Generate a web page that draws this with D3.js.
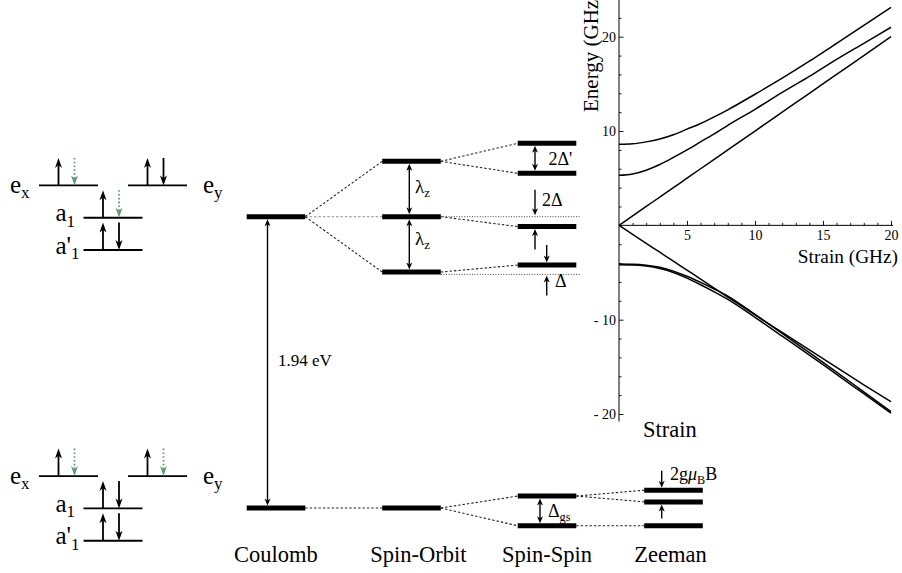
<!DOCTYPE html>
<html>
<head>
<meta charset="utf-8">
<script src="https://cdn.jsdelivr.net/npm/d3@7"></script>
<style>
  body { margin: 0; background: #fff; }
  svg { display: block; }
</style>
</head>
<body>
<svg id="chart" width="902" height="573"></svg>
<script>
// ---------- energy-level diagram ----------
const stages = ["Coulomb", "Spin-Orbit", "Spin-Spin", "Zeeman"];
// schematic level energies (arbitrary units: ground Coulomb level = 0, excited = 100)
const coulombLevels   = [100, 0];
const spinOrbitLevels = [119, 100, 81, 0];
const spinSpinLevels  = [125.2, 114.9, 96.6, 83.4, 4.1, -6.1];
const zeemanLevels    = [6.1, 2.1, -6.1];
// index of the parent level in the previous stage
const spinOrbitParents = [0, 0, 0, 1];
const spinSpinParents  = [0, 0, 1, 2, 3, 3];
const zeemanParents    = [4, 4, 5];
// spin-orbit links drawn faint (unshifted level)
const faintSpinOrbitLinks = [1];
// dotted reference energies in the spin-spin column
const referenceLevels = [100, 80.2];

// ---------- orbital occupation ----------
const orbitals = [
  { name: "e",  sub: "x", rank: 2, col: 0, side: "left"  },
  { name: "e",  sub: "y", rank: 2, col: 2, side: "right" },
  { name: "a",  sub: "1", rank: 1, col: 1, side: "left"  },
  { name: "a'", sub: "1", rank: 0, col: 1, side: "left"  }
];
// electrons per orbital: "up", "down", "hole" (dotted, missing spin-down)
const excitedOccupation = [["up", "hole"], ["up", "down"], ["up", "hole"], ["up", "down"]];
const groundOccupation  = [["up", "hole"], ["up", "hole"], ["up", "down"], ["up", "down"]];

// ---------- strain dependence of excited-state levels ----------
const strainGHz = [0, 1, 2, 3, 4, 5, 6, 7, 8, 10, 12, 14, 16, 18, 20];
const branchA = [8.6, 8.65, 8.85, 9.15, 9.6, 10.2, 10.8, 11.5, 12.25, 13.9, 15.6, 17.4, 19.3, 21.2, 23.1];
const branchB = [5.3, 5.45, 5.85, 6.45, 7.2, 8.0, 8.85, 9.7, 10.6, 12.3, 14.1, 15.8, 17.6, 19.3, 21.0];
const branchC = [0, 1, 2, 3, 4, 5, 6, 7, 8, 10, 12, 14, 16, 18, 20];
const branchD = [0, -0.95, -1.9, -2.85, -3.8, -4.75, -5.7, -6.65, -7.6, -9.5, -11.35, -13.2, -15.05, -16.9, -18.7];
const branchE = [-4.1, -4.12, -4.22, -4.45, -4.85, -5.4, -6.05, -6.75, -7.5, -9.45, -11.45, -13.5, -15.55, -17.65, -19.75];
const branchF = [-4.18, -4.2, -4.32, -4.58, -5.0, -5.6, -6.3, -7.05, -7.85, -9.75, -11.75, -13.75, -15.8, -17.85, -19.9];
const yTicksMajor = [-20, -10, 10, 20];
const xTicksMajor = [5, 10, 15, 20];

// ======================================================
const serif = "Liberation Serif";
const svg = d3.select("#chart").attr("font-family", serif);
const ink = "#000";
const green = "#5c9e73";

function arrowHead(g, x, tipY, dir, len, w, color) {
  // dir = +1 points down, -1 points up
  g.append("path")
    .attr("d", `M${x},${tipY} L${x - w / 2},${tipY - dir * len} L${x},${tipY - dir * len * 0.72} L${x + w / 2},${tipY - dir * len} Z`)
    .attr("fill", color);
}
function arrow(g, x, yFrom, yTo, o) {
  const dir = yTo > yFrom ? 1 : -1;
  const s1 = o.double ? yFrom + dir * o.len * 0.7 : yFrom;
  const s2 = yTo - dir * o.len * 0.7;
  g.append("line")
    .attr("x1", x).attr("x2", x).attr("y1", s1).attr("y2", s2)
    .attr("stroke", o.color || ink).attr("stroke-width", o.sw || 1.4)
    .attr("stroke-dasharray", o.dash || null);
  arrowHead(g, x, yTo, dir, o.len, o.w, o.color || ink);
  if (o.double) arrowHead(g, x, yFrom, -dir, o.len, o.w, o.color || ink);
}
function label(g, x, y, parts, size, anchor) {
  const t = g.append("text").attr("x", x).attr("y", y)
    .attr("font-family", serif)
    .attr("font-size", size).attr("fill", ink).attr("text-anchor", anchor || "start");
  parts.forEach(p => {
    const s = t.append("tspan").text(p.t);
    if (p.sub) s.attr("font-size", size * 0.68).attr("dy", size * 0.22);
    if (p.back) s.attr("dy", -size * 0.22);
    if (p.italic) s.attr("font-style", "italic");
  });
  return t;
}

// ---------- level diagram ----------
const yE = d3.scaleLinear().domain([0, 100]).range([508, 216.7]);
const xStage = d3.scaleOrdinal().domain(stages).range([276, 411.5, 547, 673.5]);
const halfW = 29.3;
const levelThick = 5;
const stageLevels = [coulombLevels, spinOrbitLevels, spinSpinLevels, zeemanLevels];
const stageParents = [null, spinOrbitParents, spinSpinParents, zeemanParents];

const gLinks = svg.append("g");
stageLevels.forEach((levels, i) => {
  if (i === 0) return;
  const prev = stageLevels[i - 1];
  levels.forEach((e, j) => {
    const p = stageParents[i][j];
    const faint = i === 1 && faintSpinOrbitLinks.includes(j);
    gLinks.append("line")
      .attr("x1", xStage(stages[i - 1]) + halfW).attr("y1", yE(prev[p]))
      .attr("x2", xStage(stages[i]) - halfW).attr("y2", yE(e))
      .attr("stroke", faint ? "#888" : "#222")
      .attr("stroke-width", 1.1)
      .attr("stroke-dasharray", "2.4,2");
  });
});
// dotted reference lines from the spin-orbit column through the spin-spin column
referenceLevels.forEach(e => {
  gLinks.append("line")
    .attr("x1", xStage("Spin-Orbit") + halfW).attr("x2", xStage("Spin-Spin") + halfW + 4)
    .attr("y1", yE(e)).attr("y2", yE(e))
    .attr("stroke", "#444").attr("stroke-width", 1)
    .attr("stroke-dasharray", "1,1.6");
});

const gLevels = svg.append("g");
stageLevels.forEach((levels, i) => {
  gLevels.selectAll(null).data(levels).join("line")
    .attr("x1", xStage(stages[i]) - halfW).attr("x2", xStage(stages[i]) + halfW)
    .attr("y1", d => yE(d)).attr("y2", d => yE(d))
    .attr("stroke", ink).attr("stroke-width", levelThick);
});

// stage names
const stageLabelShift = [0, 7, 0, -3];
stages.forEach((s, i) => {
  label(svg, xStage(s) + stageLabelShift[i], 562, [{ t: s }], 22.5, "middle");
});

// splitting arrows
const gArr = svg.append("g");
const big = { len: 7, w: 6, sw: 1.4 };
const inset = levelThick / 2;
// optical gap
const xGap = xStage("Coulomb") - 8.5;
arrow(gArr, xGap, yE(coulombLevels[0]) + inset, yE(coulombLevels[1]) - inset, { ...big, double: true });
label(svg, 278, 365.5, [{ t: "1.94 eV" }], 17);
// spin-orbit λz
const xSO = xStage("Spin-Orbit") - 2.2;
arrow(gArr, xSO, yE(spinOrbitLevels[0]) + inset, yE(spinOrbitLevels[1]) - inset, { ...big, double: true });
arrow(gArr, xSO, yE(spinOrbitLevels[1]) + inset, yE(spinOrbitLevels[2]) - inset, { ...big, double: true });
label(svg, 415, 193, [{ t: "λ" }, { t: "z", sub: true }], 19);
label(svg, 415, 245, [{ t: "λ" }, { t: "z", sub: true }], 19);
// spin-spin
const xSS1 = xStage("Spin-Spin") - 12, xSS2 = xStage("Spin-Spin") - 0.3;
arrow(gArr, xSS1, yE(spinSpinLevels[0]) + inset, yE(spinSpinLevels[1]) - inset, { ...big, double: true });
label(svg, 548.5, 165, [{ t: "2Δ'" }], 18);
arrow(gArr, xSS1, yE(referenceLevels[0]) - 27, yE(referenceLevels[0]) - 1.5, big);
label(svg, 542, 205.5, [{ t: "2Δ" }], 18);
arrow(gArr, xSS1, yE(spinSpinLevels[2]) + inset + 20.5, yE(spinSpinLevels[2]) + inset, big);
arrow(gArr, xSS2, yE(spinSpinLevels[3]) - inset - 17.5, yE(spinSpinLevels[3]) - inset, big);
arrow(gArr, xSS2, yE(referenceLevels[1]) + 21, yE(referenceLevels[1]) + 1, big);
label(svg, 555, 287, [{ t: "Δ" }], 18);
// ground-state zero-field splitting
const xGS = xStage("Spin-Spin") - 7;
arrow(gArr, xGS, yE(spinSpinLevels[4]) + inset, yE(spinSpinLevels[5]) - inset, { ...big, double: true });
label(svg, 548, 517, [{ t: "Δ" }, { t: "gs", sub: true }], 18);
// Zeeman
const xZ = xStage("Zeeman") - 11.8;
arrow(gArr, xZ, yE(zeemanLevels[0]) - inset - 17, yE(zeemanLevels[0]) - inset, big);
arrow(gArr, xZ, yE(zeemanLevels[1]) + inset + 14, yE(zeemanLevels[1]) + inset, big);
label(svg, 670, 480, [{ t: "2g" }, { t: "μ", italic: true }, { t: "B", sub: true }, { t: "B", back: true }], 18);

// ---------- orbital diagrams ----------
function orbitalDiagram(baseY, occupation) {
  const g = svg.append("g");
  const yR = d3.scaleLinear().domain([0, 2]).range([baseY, baseY - 64.6]);
  const xC = d3.scaleLinear().domain([0, 2]).range([39, 128]);
  const w = 59;
  orbitals.forEach((o, i) => {
    const x0 = xC(o.col), y = yR(o.rank);
    g.append("line").attr("x1", x0).attr("x2", x0 + w).attr("y1", y).attr("y2", y)
      .attr("stroke", ink).attr("stroke-width", 1.9);
    const ly = o.name === "e" ? y + 7.5 : y + 3.5;
    if (o.side === "left") {
      const lx = o.name === "e" ? x0 - 29 : x0 - 28;
      label(g, lx, ly, [{ t: o.name }, { t: o.sub, sub: true }], 25);
    } else {
      label(g, x0 + w + 16, ly, [{ t: o.name }, { t: o.sub, sub: true }], 25);
    }
    const sp = { len: 10, w: 7, sw: 1.8 };
    occupation[i].forEach((s, k) => {
      const ax = x0 + (k === 0 ? 19.5 : 35.5);
      if (s === "up") arrow(g, ax, y, y - 27.5, sp);
      else if (s === "down") arrow(g, ax, y - 27.5, y, sp);
      else arrow(g, ax, y - 27.5, y, { ...sp, color: green, dash: "1.6,2.2" });
    });
  });
}
orbitalDiagram(250, excitedOccupation);
orbitalDiagram(540.7, groundOccupation);

// ---------- strain inset ----------
const xS = d3.scaleLinear().domain([0, 20]).range([619, 891]);
const yG = d3.scaleLinear().domain([-20, 20]).range([414, 36.7]);
const gI = svg.append("g");

// axis lines
gI.append("line").attr("x1", xS(0)).attr("x2", xS(0)).attr("y1", yG(24)).attr("y2", yG(-20.8))
  .attr("stroke", ink).attr("stroke-width", 1);
gI.append("line").attr("x1", xS(0)).attr("x2", xS(20.15)).attr("y1", yG(0)).attr("y2", yG(0))
  .attr("stroke", ink).attr("stroke-width", 1);

const negFmt = d => d < 0 ? "- " + (-d) : String(d);
const yMajor = gI.append("g").attr("transform", `translate(${xS(0)},0)`)
  .call(d3.axisLeft(yG).tickValues(yTicksMajor).tickSize(-4.5).tickPadding(3).tickFormat(negFmt));
const yMinor = gI.append("g").attr("transform", `translate(${xS(0)},0)`)
  .call(d3.axisLeft(yG).tickValues(d3.range(-20, 24, 2).filter(v => v % 10 !== 0)).tickSize(-2.5).tickFormat(""));
const xMajor = gI.append("g").attr("transform", `translate(0,${yG(0)})`)
  .call(d3.axisBottom(xS).tickValues(xTicksMajor).tickSize(-4.5).tickPadding(5));
const xMinor = gI.append("g").attr("transform", `translate(0,${yG(0)})`)
  .call(d3.axisBottom(xS).tickValues(d3.range(1, 21).filter(v => v % 5 !== 0)).tickSize(-2.5).tickFormat(""));
[yMajor, yMinor, xMajor, xMinor].forEach(a => {
  a.select(".domain").remove();
  a.attr("font-family", serif).attr("font-size", 14);
  a.selectAll(".tick line").attr("stroke", ink).attr("stroke-width", 0.9);
  a.selectAll(".tick text").attr("fill", ink).attr("font-family", serif);
});

const curve = d3.line().x((d, i) => xS(strainGHz[i])).y(d => yG(d)).curve(d3.curveMonotoneX);
[branchA, branchB, branchC, branchD, branchE, branchF].forEach(b => {
  gI.append("path").attr("d", curve(b)).attr("fill", "none")
    .attr("stroke", ink).attr("stroke-width", 1.5);
});

svg.append("text").attr("transform", "translate(598,112) rotate(-90)")
  .attr("font-family", serif).attr("font-size", 21).text("Energy (GHz)");
label(svg, 898, 263, [{ t: "Strain (GHz)" }], 19.3, "end");
label(svg, 643, 437, [{ t: "Strain" }], 22.5);
</script>
</body>
</html>
